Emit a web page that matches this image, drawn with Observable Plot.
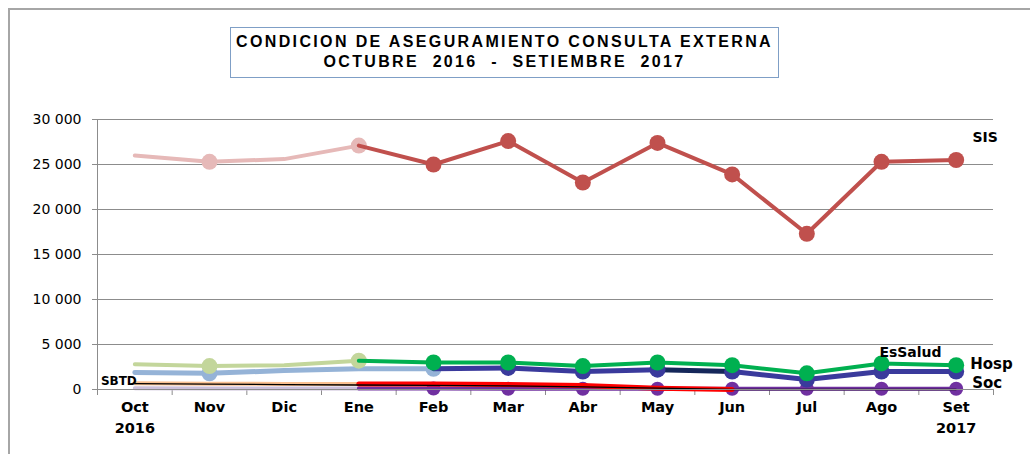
<!DOCTYPE html>
<html>
<head>
<meta charset="utf-8">
<script src="https://cdn.jsdelivr.net/npm/d3@7"></script>
<script src="https://cdn.jsdelivr.net/npm/@observablehq/plot@0.6"></script>
<style>
  html, body { margin: 0; padding: 0; background: #fff; }
  #wrap { position: relative; width: 1030px; height: 454px; overflow: hidden; }
  #frame { position: absolute; left: 8px; top: 8px; width: 1100px; height: 500px;
           border-left: 2px solid #a6a6a6; border-top: 2px solid #a6a6a6; }
  #title { position: absolute; left: 230px; top: 27px; width: 549px; height: 51px;
           border: 1px solid #7f9fc6; text-align: center; white-space: pre;
           font-family: "Liberation Sans", Arial, sans-serif; font-weight: bold;
           font-size: 16px; line-height: 20px; padding-top: 4px; box-sizing: border-box; color: #000; }
  #chart { position: absolute; left: 0; top: 0; }
</style>
</head>
<body>
<div id="wrap">
  <div id="frame"></div>
  <div id="chart"></div>
  <div id="title"><span id="t1">CONDICION DE ASEGURAMIENTO CONSULTA EXTERNA</span>
<span id="t2">OCTUBRE  2016  -  SETIEMBRE  2017</span></div>
</div>
<script>
// ---- data ----
const months = ["Oct","Nov","Dic","Ene","Feb","Mar","Abr","May","Jun","Jul","Ago","Set"];
const years  = ["2016","","","","","","","","","","","2017"];
const yTicks = [0, 5000, 10000, 15000, 20000, 25000, 30000];
const sis     = [26000,25300,25600,27100,25000,27600,23000,27400,23900,17300,25300,25500];
const hosp    = [2800,2600,2700,3200,3000,3000,2600,3000,2700,1800,2900,2700];
const essalud = [1900,1800,2100,2300,2300,2400,2000,2200,2000,1100,2000,2000];
const soc     = [150,100,100,100,100,80,80,80,80,80,80,80];
const otros   = [700,650,620,600,600,550,450,150,0];
const sbtd    = [650,600,550,500,450,400,300,150,0,0,0,0];
const seriesNames = ["SIS","EsSalud","Hosp","Soc","SBTD"];

// ---- helpers ----
const pts = (values, from, to) => values.slice(from, to + 1).map((v, k) => ({i: from + k, v}));
const pick = (values, idx) => idx.map(i => ({i, v: values[i]}));
const boundaries = months.map((m, i) => i - 0.5).concat([months.length - 0.5]);
const fmt = d => d3.format(",")(d).replace(/,/g, " ");
const range = (a, b) => d3.range(a, b + 1);

const line = (data, stroke, w) => Plot.line(data, {x: "i", y: "v", stroke, strokeWidth: w, curve: "linear"});
const dots = (data, fill, r) => Plot.dot(data, {x: "i", y: "v", r, fill, stroke: "none"});
const lbl = (i, v, text, o) => Plot.text([{i, v, text}], Object.assign({x: "i", y: "v", text: "text",
  fontWeight: "bold", fontFamily: "DejaVu Sans", fontSize: 14, fill: "#000"}, o));

const chart = Plot.plot({
  width: 1030,
  height: 454,
  marginLeft: 97,
  marginRight: 37,
  marginTop: 119,
  marginBottom: 65,
  style: {background: "transparent", fontFamily: "DejaVu Sans", fontSize: "14px", color: "#000", overflow: "visible"},
  x: {type: "linear", domain: [-0.5, months.length - 0.5], ticks: boundaries, tickFormat: () => "", tickSize: 6, label: null},
  y: {domain: [0, 30000], ticks: yTicks, tickFormat: fmt, tickSize: 5, tickPadding: 11, label: null},
  marks: [
    Plot.ruleY(yTicks, {stroke: "#8c8c8c", strokeWidth: 1}),
    Plot.ruleX([-0.5], {y1: 0, y2: 30000, stroke: "#8c8c8c", strokeWidth: 1}),
    // Soc (purple)
    line(pts(soc, 0, 3), "#ccc0da", 4),
    line(pts(soc, 3, 11), "#7030a0", 4),
    dots(pick(soc, range(4, 11)), "#7030a0", 7),
    // otros (peach / red)
    line(pts(otros, 0, 3), "#fac090", 4),
    line(pts(otros, 3, 8), "#ff0000", 5),
    // SBTD (black thin)
    line(pts(sbtd, 0, 11), "#000000", 1.3),
    // EsSalud (blue)
    line(pts(essalud, 0, 4), "#95b3d7", 5),
    dots(pick(essalud, [1, 4]), "#95b3d7", 8),
    line(pts(essalud, 4, 7), "#3a3a9c", 5),
    line(pts(essalud, 7, 8), "#15275a", 5),
    line(pts(essalud, 8, 11), "#3a3a9c", 5),
    dots(pick(essalud, range(5, 11)), "#3a3a9c", 8),
    // Hosp (green)
    line(pts(hosp, 0, 3), "#c3d69b", 4),
    dots(pick(hosp, [1, 3]), "#c3d69b", 8),
    line(pts(hosp, 3, 11), "#00b050", 4),
    dots(pick(hosp, range(4, 11)), "#00b050", 8),
    // SIS (red)
    line(pts(sis, 0, 3), "#e6b9b8", 4),
    dots(pick(sis, [1, 3]), "#e6b9b8", 8),
    line(pts(sis, 3, 11), "#c0504d", 4),
    dots(pick(sis, range(4, 11)), "#c0504d", 8),
    // axis line at 0
    Plot.ruleY([0], {stroke: "#8c8c8c", strokeWidth: 1}),
    // month labels
    Plot.text(months, {x: (d, i) => i, frameAnchor: "bottom", dy: 22, fontWeight: "bold", fontSize: 14.5, fontFamily: "DejaVu Sans", fill: "#000"}),
    Plot.text(years, {x: (d, i) => i, frameAnchor: "bottom", dy: 43, fontWeight: "bold", fontSize: 14.5, fontFamily: "DejaVu Sans", fill: "#000"}),
    // series labels
    lbl(11, sis[11], seriesNames[0], {dx: 29, dy: -22, fontSize: 14}),
    lbl(10, hosp[10], seriesNames[1], {dx: 29, dy: -11}),
    lbl(11, hosp[11], seriesNames[2], {dx: 14, dy: -1, textAnchor: "start", fontSize: 15}),
    lbl(11, 0, seriesNames[3], {dx: 16, dy: -6, textAnchor: "start", fontSize: 15}),
    lbl(0, sbtd[0], seriesNames[4], {dx: 2, dy: -2, textAnchor: "end", fontSize: 12})
  ]
});

document.getElementById("chart").appendChild(chart);
// grey axis ticks
d3.select(chart).selectAll('[aria-label^="y-axis"] path, [aria-label^="y-axis"] line, [aria-label^="x-axis"] path, [aria-label^="x-axis"] line')
  .attr("stroke", "#8c8c8c");
d3.select(chart).selectAll('[aria-label^="y-axis"] text').attr("fill", "#000");

// fit title lines with letter spacing
function spread(id, target) {
  const el = document.getElementById(id);
  const w = el.getBoundingClientRect().width;
  const n = el.textContent.length;
  el.style.letterSpacing = ((target - w) / n) + "px";
}
spread("t1", 537);
spread("t2", 362);
</script>
</body>
</html>
